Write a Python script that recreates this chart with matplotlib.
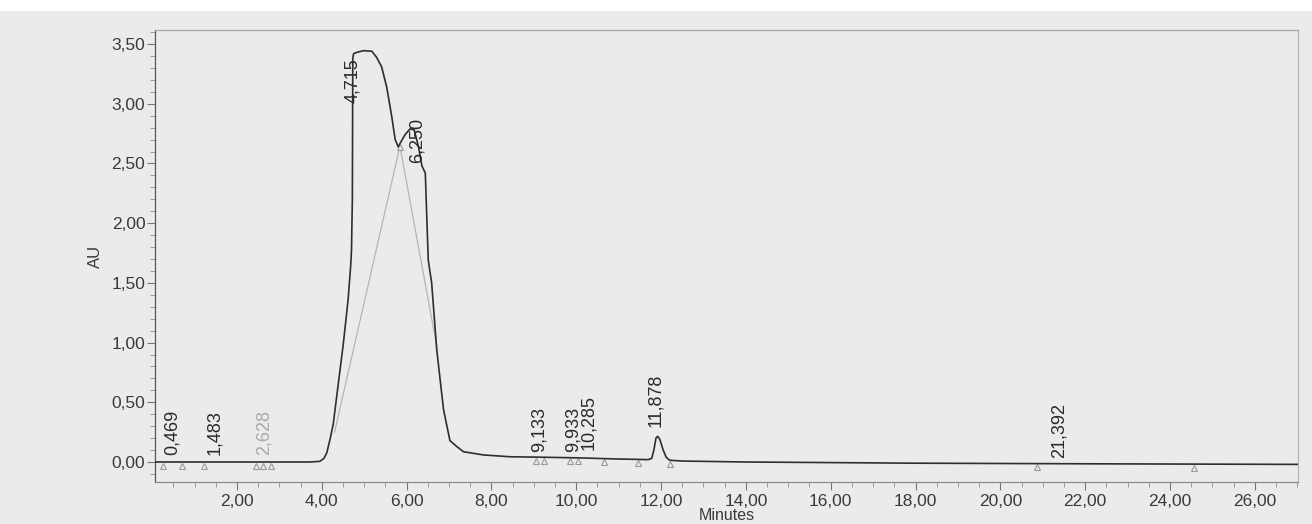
import numpy as np
import matplotlib
matplotlib.use("Agg")
import matplotlib.pyplot as plt
from matplotlib.ticker import MultipleLocator, FuncFormatter
from matplotlib.patches import Rectangle

# ---- data ----
time_min = [0.06, 3.70, 3.95, 4.05, 4.12, 4.20, 4.27, 4.39, 4.51, 4.62, 4.68, 4.70,
            4.72, 4.73, 4.75, 4.82, 4.98, 5.18, 5.29, 5.41, 5.53, 5.65, 5.73, 5.80,
            5.96, 6.08, 6.18, 6.28, 6.36, 6.44, 6.51, 6.59, 6.71, 6.87, 7.02, 7.18,
            7.34, 7.81, 8.44, 9.20, 10.00, 11.00, 11.70, 11.78, 11.83, 11.88, 11.92,
            11.97, 12.05, 12.12, 12.20, 12.50, 14.00, 18.00, 22.00, 27.02]
absorbance = [0.000, 0.000, 0.005, 0.030, 0.080, 0.200, 0.320, 0.660, 1.000, 1.360, 1.640, 1.780,
              2.200, 3.380, 3.420, 3.430, 3.445, 3.440, 3.390, 3.310, 3.140, 2.890, 2.700, 2.640,
              2.740, 2.790, 2.780, 2.640, 2.480, 2.420, 1.690, 1.500, 0.940, 0.440, 0.180, 0.130,
              0.086, 0.059, 0.044, 0.040, 0.035, 0.025, 0.020, 0.030, 0.100, 0.200, 0.215,
              0.190, 0.100, 0.040, 0.015, 0.008, 0.000, -0.010, -0.015, -0.020]

# drop-line (peak split) baselines
split_left_t = [4.30, 5.82]
split_left_v = [0.25, 2.61]
split_right_t = [5.86, 6.72]
split_right_v = [2.61, 0.95]

# integration markers (triangles)
marker_t = [0.25, 0.71, 1.21, 2.45, 2.62, 2.80, 5.84, 9.05, 9.25, 9.85, 10.05,
            10.65, 11.45, 12.20, 20.86, 24.57]

# peak retention-time labels
peak_rt = [0.469, 1.483, 2.628, 4.715, 6.250, 9.133, 9.933, 10.285, 11.878, 21.392]
peak_label_base = [0.06, 0.06, 0.06, 3.01, 2.50, 0.085, 0.085, 0.10, 0.29, 0.035]
peak_faint = [False, False, True, False, False, False, False, False, False, False]

x_major = [2, 4, 6, 8, 10, 12, 14, 16, 18, 20, 22, 24, 26]
y_major = [0.0, 0.5, 1.0, 1.5, 2.0, 2.5, 3.0, 3.5]

# ---- figure ----
plt.rcParams['font.family'] = ['Liberation Sans', 'DejaVu Sans']
bg = '#ebebeb'
fig = plt.figure(figsize=(13.12, 5.24), dpi=100, facecolor=bg)
fig.add_artist(Rectangle((0, 1 - 11 / 524), 1, 11 / 524, transform=fig.transFigure,
                         facecolor='white', edgecolor='none', zorder=0))
ax = fig.add_axes([155 / 1312, 1 - 482 / 524, (1298 - 155) / 1312, (482 - 30) / 524])
ax.set_facecolor(bg)

ax.plot(time_min, absorbance, color='#2e2e2e', lw=1.2, zorder=3)
ax.plot(split_left_t, split_left_v, color='#b5b5b5', lw=0.9, zorder=2)
ax.plot(split_right_t, split_right_v, color='#b5b5b5', lw=0.9, zorder=2)

mk_y = np.interp(marker_t, time_min, absorbance) - 0.03
ax.plot(marker_t, mk_y, ls='none', marker='^', ms=5, mfc='none', mec='#9a9a9a', mew=0.8, zorder=2)

for rt, base, faint in zip(peak_rt, peak_label_base, peak_faint):
    ax.text(rt, base, f"{rt:.3f}".replace('.', ','), rotation=90, ha='center', va='bottom',
            fontsize=13, color='#aaaaaa' if faint else '#2a2a2a', zorder=4)

ax.set_xlim(0.066, 27.02)
ax.set_ylim(-0.1675, 3.618)
ax.set_xticks(x_major)
ax.set_yticks(y_major)
ax.xaxis.set_minor_locator(MultipleLocator(0.5))
ax.yaxis.set_minor_locator(MultipleLocator(0.1))
fmt = FuncFormatter(lambda v, p: f"{v:.2f}".replace('.', ','))
ax.xaxis.set_major_formatter(fmt)
ax.yaxis.set_major_formatter(fmt)
ax.tick_params(axis='both', which='major', length=6, width=0.8, color='#777777',
               labelsize=12.5, labelcolor='#3a3a3a', direction='out')
ax.tick_params(axis='both', which='minor', length=3.5, width=0.7, color='#999999', direction='out')
ax.tick_params(axis='x', which='major', pad=2.5)
ax.tick_params(axis='y', which='major', pad=1)

ax.spines['left'].set_color('#555555')
ax.spines['bottom'].set_color('#8a8a8a')
ax.spines['top'].set_color('#a8a8a8')
ax.spines['right'].set_color('#b5b5b5')
for s in ax.spines.values():
    s.set_linewidth(0.9)

ax.set_ylabel('AU', fontsize=12, color='#3a3a3a')
ax.yaxis.set_label_coords(-0.0525, 0.5)
ax.yaxis.label.set_va('center')
ax.set_xlabel('Minutes', fontsize=11.5, color='#3a3a3a')
ax.xaxis.set_label_coords(0.5, (482 - 508) / 452)
ax.xaxis.label.set_va('top')

fig.savefig('out.png', dpi=100, facecolor=bg)
